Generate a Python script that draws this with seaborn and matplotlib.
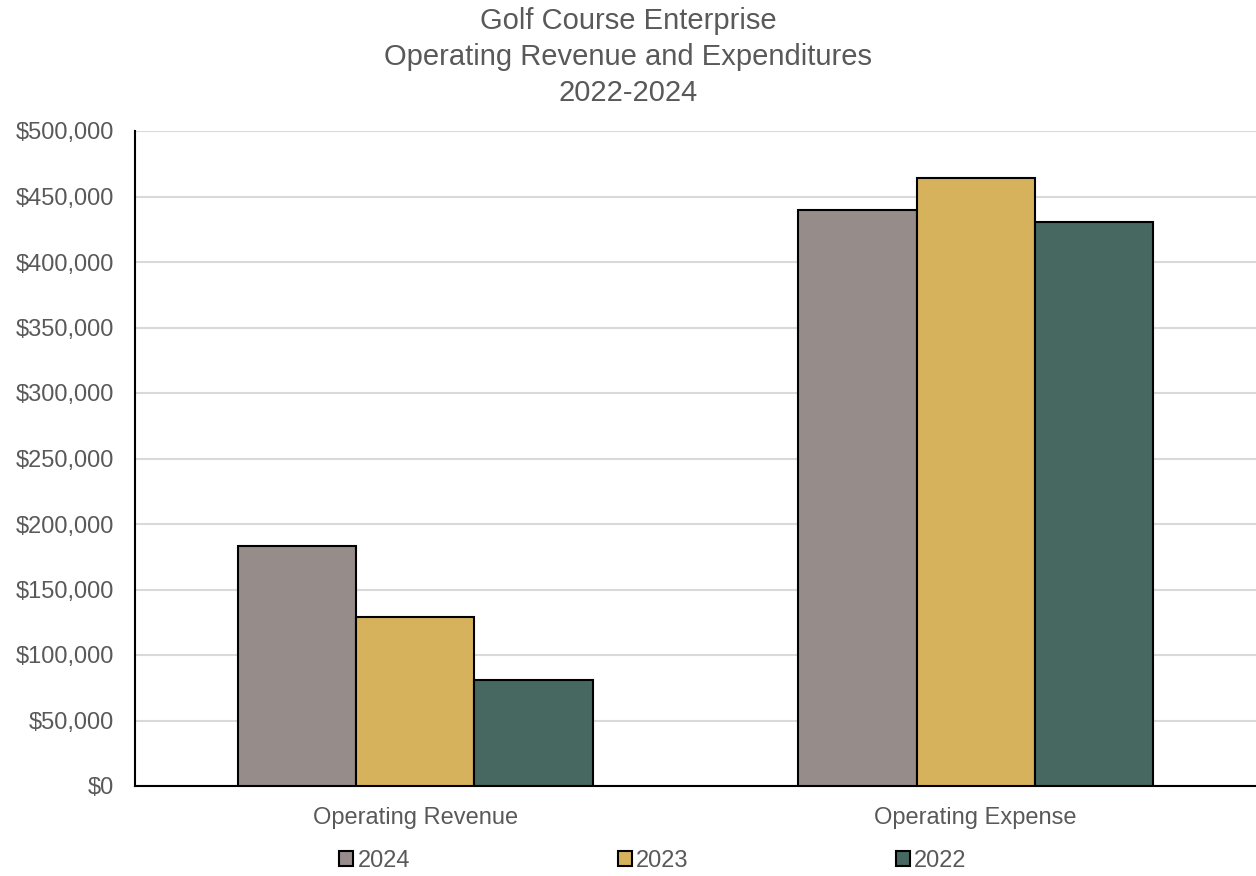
import pandas as pd
import seaborn as sns
import matplotlib.pyplot as plt
from matplotlib.patches import Patch
from matplotlib.ticker import FuncFormatter

# values
categories = ["Operating Revenue", "Operating Expense"]
years = ["2024", "2023", "2022"]
revenue = [183500, 129000, 81000]
expense = [439800, 464200, 430500]
colors = ["#968C8A", "#D7B25D", "#466860"]

rows = []
for i, y in enumerate(years):
    rows.append({"Category": categories[0], "Year": y, "Amount": revenue[i]})
    rows.append({"Category": categories[1], "Year": y, "Amount": expense[i]})
df = pd.DataFrame(rows)

sns.set_style("white")
plt.rcParams["font.family"] = ["Liberation Sans", "DejaVu Sans"]
grey = "#595959"

fig = plt.figure(figsize=(12.56, 8.76), dpi=100)
ax = fig.add_axes([135 / 1256, 1 - 786 / 876, 1 - 135 / 1256, (786 - 131) / 876])

sns.barplot(data=df, x="Category", y="Amount", hue="Year", hue_order=years,
            order=categories, palette=colors, saturation=1, width=0.634,
            edgecolor="black", linewidth=1.5, ax=ax, legend=False, zorder=3)

ax.set_ylim(0, 500000)
ax.set_yticks(range(0, 500001, 50000))
ax.yaxis.set_major_formatter(FuncFormatter(lambda v, p: f"${v:,.0f}"))
ax.yaxis.grid(True, color="#D9D9D9", linewidth=1.5, zorder=0)
ax.set_axisbelow(True)
ax.set_xlabel("")
ax.set_ylabel("")
ax.tick_params(axis="both", colors=grey, labelsize=17, length=0)
ax.tick_params(axis="y", pad=15)
ax.tick_params(axis="x", pad=15)

for s in ["top", "right"]:
    ax.spines[s].set_visible(False)
ax.spines["left"].set_color("black")
ax.spines["bottom"].set_color("black")
ax.spines["left"].set_linewidth(1.5)
ax.spines["bottom"].set_linewidth(1.5)

fig.text(0.5, 1 - 57 / 876, "Golf Course Enterprise\nOperating Revenue and Expenditures\n2022-2024",
         ha="center", va="center", fontsize=21, color=grey, linespacing=1.37)

handles = [Patch(facecolor=c, edgecolor="black", linewidth=1.5) for c in colors]
fig.legend(handles, years, loc="center", bbox_to_anchor=(653 / 1256, 1 - 861 / 876),
           ncol=3, frameon=False, fontsize=17, labelcolor=grey,
           handlelength=0.6, handleheight=0.6, handletextpad=0.17, columnspacing=8.8)

fig.savefig("out.png", dpi=100)
